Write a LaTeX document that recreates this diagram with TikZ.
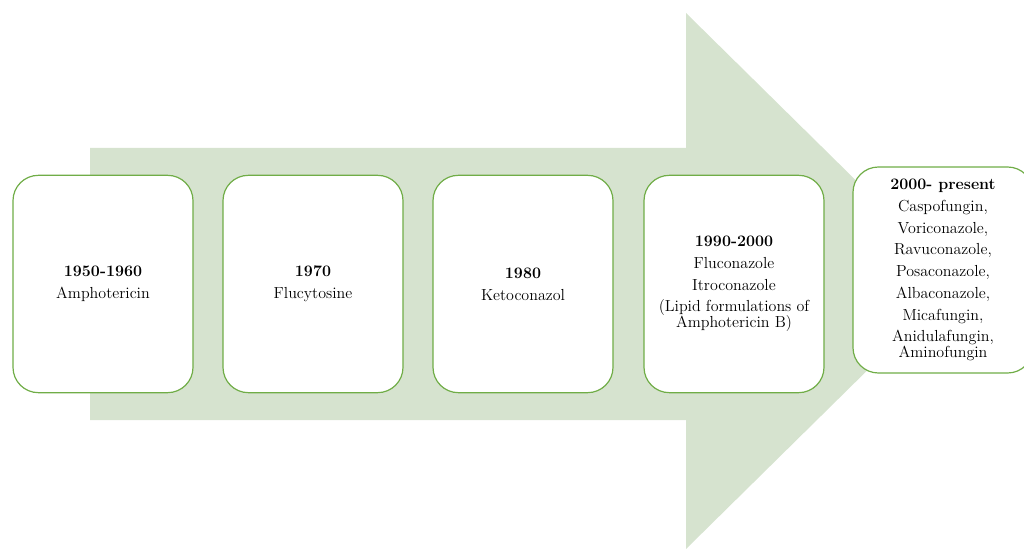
\documentclass[tikz,border=0pt]{standalone}
\usepackage{xcolor}
\usepackage{tikz}
\usetikzlibrary{positioning}

\definecolor{arrowgreen}{HTML}{D6E3CF}
\definecolor{boxgreen}{HTML}{70AD47}

\tikzset{
  era/.style={draw=boxgreen, line width=0.9pt, fill=white, rounded corners=19pt,
    minimum width=135pt, minimum height=163pt, align=center,
    font=\fontsize{12}{16.3}\selectfont, inner sep=2pt},
}

\begin{document}
\begin{tikzpicture}[x=0.75pt,y=-0.75pt]
\useasboundingbox (0,0) rectangle (1024,549);
% big arrow behind the boxes
\fill[arrowgreen] (90,148) -- (686,148) -- (686,13) -- (958,281) -- (686,549) -- (686,420) -- (90,420) -- cycle;
% time periods
\node[era] (p1) at (103,284) {\textbf{1950-1960}\\Amphotericin};
\node[era] (p2) at (313,284) {\textbf{1970}\\Flucytosine};
\node[era] (p3) at (523,284) {\textbf{1980}\\Ketoconazol};
\node[era] (p4) at (734,284) {\textbf{1990-2000}\\Fluconazole\\Itroconazole\\(Lipid formulations of\\[-4.5pt]Amphotericin B)};
\node[era, minimum height=154.5pt] (p5) at (943,270) {\textbf{2000- present}\\Caspofungin,\\Voriconazole,\\Ravuconazole,\\Posaconazole,\\Albaconazole,\\Micafungin,\\Anidulafungin,\\[-4.5pt]Aminofungin};
\end{tikzpicture}
\end{document}
